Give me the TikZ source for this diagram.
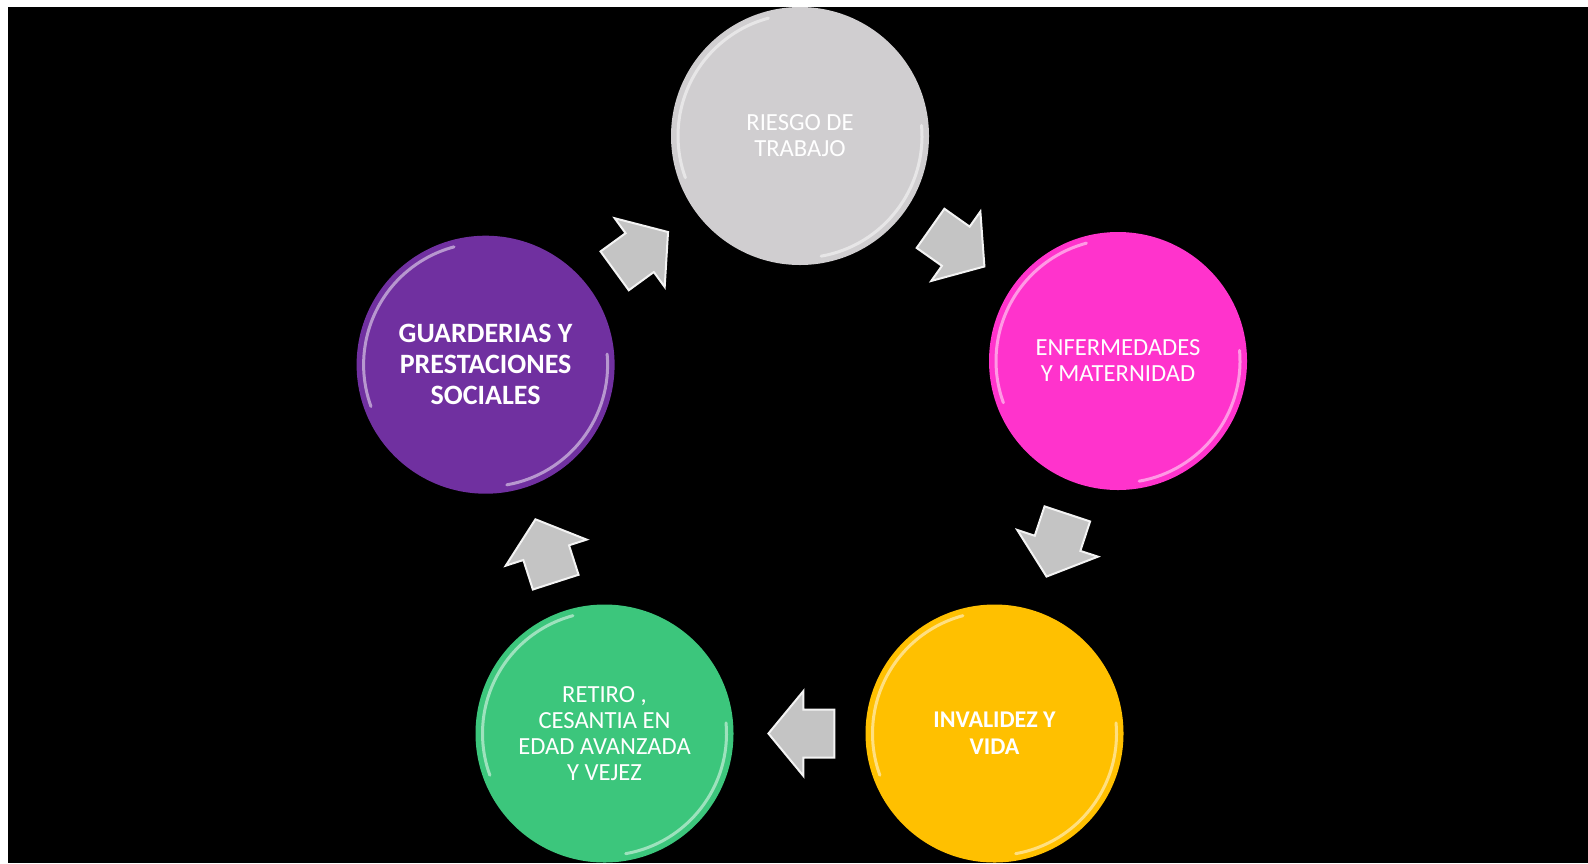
\documentclass[tikz,border=0pt]{standalone}
\usepackage{fontspec}
\setmainfont{Carlito}
\usetikzlibrary{shapes.arrows}
\definecolor{cgray}{RGB}{208,206,208}
\definecolor{cpink}{RGB}{255,51,204}
\definecolor{cyellow}{RGB}{255,192,0}
\definecolor{cgreen}{RGB}{60,198,124}
\definecolor{cpurple}{RGB}{112,48,160}
\definecolor{carrow}{RGB}{196,196,196}
\tikzset{
  ball/.style={circle, minimum size=129pt, inner sep=0pt, align=center, text=white,
    font=\fontsize{12.3}{13}\selectfont},
  hl/.style={white, opacity=0.5, line width=1.5pt, line cap=round},
  barrow/.style={single arrow, draw=white!80!carrow, line width=1pt, fill=carrow,
    inner xsep=0pt, inner ysep=11.5pt, minimum height=33pt,
    single arrow head extend=9.25pt, single arrow tip angle=101,
    sloped, allow upside down, pos=0.41}
}
\begin{document}
\begin{tikzpicture}[x=0.5pt, y=-0.5pt]
  \useasboundingbox (0,0) rectangle (1588,863);
  \fill[white] (0,0) rectangle (1588,863);
  \fill[black] (8,7) rectangle (1588,863);

  \node[ball, fill=cgray] (g) at (800,136) {RIESGO DE\\TRABAJO};
  \node[ball, fill=cpink] (p) at (1118,361) {ENFERMEDADES\\Y MATERNIDAD};
  \node[ball, fill=cyellow, font=\fontsize{12}{13.5}\selectfont\bfseries] (y) at (994.5,733.5) {INVALIDEZ Y\\VIDA};
  \node[ball, fill=cgreen] (v) at (604.5,733.5) {RETIRO ,\\CESANTIA EN\\EDAD AVANZADA\\Y VEJEZ};
  \node[ball, fill=cpurple, font=\fontsize{14}{15.5}\selectfont\bfseries] (m) at (485.6,364.7) {GUARDERIAS Y\\PRESTACIONES\\SOCIALES};

  \foreach \n in {g,p,y,v,m}{
    \draw[hl] (\n.center) ++(105:61pt) arc[start angle=105, end angle=200, radius=61pt];
    \draw[hl] (\n.center) ++(-80:61pt) arc[start angle=-80, end angle=5, radius=61pt];
  }

  \path (m) -- node[barrow] (a1) {} (g);
  \path (g) -- node[barrow] (a2) {} (p);
  \path (p) -- node[barrow] (a3) {} (y);
  \path (y) -- node[barrow] (a4) {} (v);
  \path (v) -- node[barrow] (a5) {} (m);
\end{tikzpicture}
\end{document}
